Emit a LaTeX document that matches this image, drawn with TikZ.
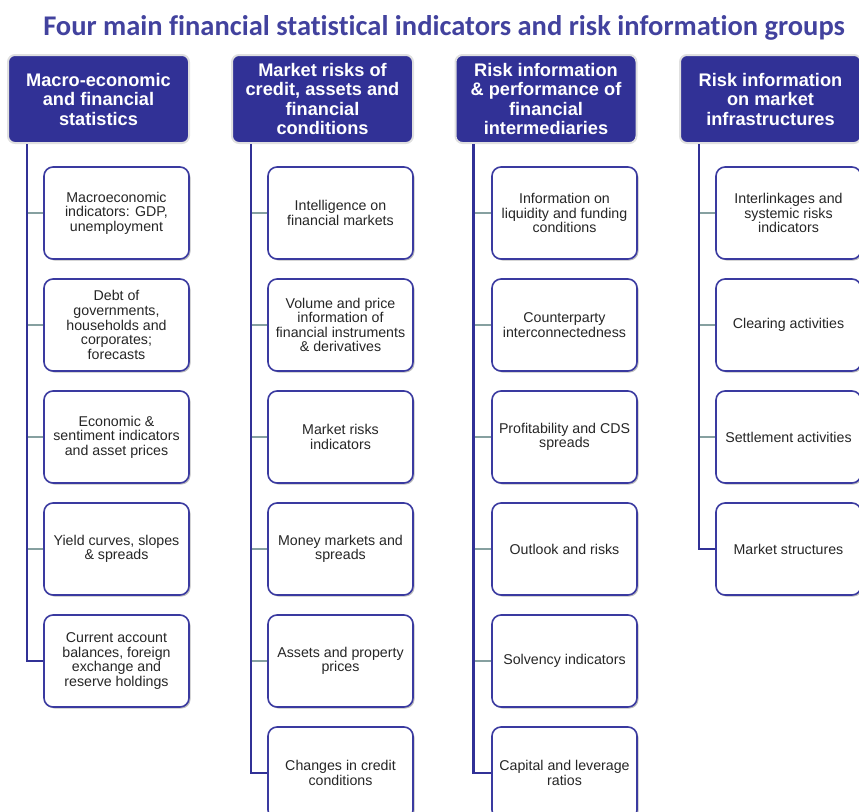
\documentclass[tikz,border=0pt]{standalone}
\usepackage{fontspec}
\setmainfont{Liberation Sans}
\newfontfamily\titlefont[Ligatures=NoCommon]{Carlito}
\usepackage{tikz}
\usetikzlibrary{shadows}
\definecolor{HeadBlue}{HTML}{313196}
\definecolor{BoxFrame}{HTML}{3A3AA0}
\definecolor{TabGrey}{HTML}{86A0A0}
\definecolor{BodyText}{HTML}{262626}

\begin{document}
\begin{tikzpicture}[x=1pt,y=-1pt]
  \tikzstyle{grouphead}=[draw=black!12, line width=2pt, fill=HeadBlue, rounded corners=7pt,
               minimum width=181, minimum height=88, inner sep=0pt, align=center,
               text=white, font=\fontsize{18.2}{19.5}\selectfont\bfseries]
  \tikzstyle{itembox}=[draw=BoxFrame, line width=1.6pt, fill=white, rounded corners=9pt,
               minimum width=145, minimum height=92, inner sep=0pt, align=center,
               text=BodyText, font=\fontsize{14.2}{14.6}\selectfont,
               drop shadow={shadow xshift=1.5pt, shadow yshift=-1.5pt, opacity=.25, fill=black}]
  \tikzstyle{trunk}=[draw=HeadBlue, line width=2.2pt]
  \tikzstyle{tab}=[draw=TabGrey, line width=2.8pt]
  \useasboundingbox (0,0) rectangle (859,811);
  % title
  \node[font=\titlefont\fontsize{28.5}{30}\selectfont\bfseries, text=HeadBlue!92!white] (title) at (444,28)
    {Four main financial statistical indicators and risk information groups};
  % group heads
  \node[grouphead] (h1) at (98.5,99) {Macro-economic\\and financial\\statistics};
  \node[grouphead] (h2) at (322.5,99) {Market risks of\\credit, assets and\\financial\\conditions};
  \node[grouphead] (h3) at (546,99) {Risk information\\\& performance of\\financial\\intermediaries};
  \node[grouphead] (h4) at (770.5,99) {Risk information\\on market\\infrastructures};
  % macro-economic statistics
  \node[itembox] (a1) at (116.5,213) {Macroeconomic\\indicators: GDP,\\unemployment};
  \node[itembox] (a2) at (116.5,325) {Debt of\\governments,\\households and\\corporates;\\forecasts};
  \node[itembox] (a3) at (116.5,437) {Economic \&\\sentiment indicators\\and asset prices};
  \node[itembox] (a4) at (116.5,549) {Yield curves, slopes\\\& spreads};
  \node[itembox] (a5) at (116.5,661) {Current account\\balances, foreign\\exchange and\\reserve holdings};
  % market risks
  \node[itembox] (b1) at (340.5,213) {Intelligence on\\financial markets};
  \node[itembox] (b2) at (340.5,325) {Volume and price\\information of\\financial instruments\\\& derivatives};
  \node[itembox] (b3) at (340.5,437) {Market risks\\indicators};
  \node[itembox] (b4) at (340.5,549) {Money markets and\\spreads};
  \node[itembox] (b5) at (340.5,661) {Assets and property\\prices};
  \node[itembox] (b6) at (340.5,773) {Changes in credit\\conditions};
  % financial intermediaries
  \node[itembox] (c1) at (564.5,213) {Information on\\liquidity and funding\\conditions};
  \node[itembox] (c2) at (564.5,325) {Counterparty\\interconnectedness};
  \node[itembox] (c3) at (564.5,437) {Profitability and CDS\\spreads};
  \node[itembox] (c4) at (564.5,549) {Outlook and risks};
  \node[itembox] (c5) at (564.5,661) {Solvency indicators};
  \node[itembox] (c6) at (564.5,773) {Capital and leverage\\ratios};
  % market infrastructures
  \node[itembox] (d1) at (788.5,213) {Interlinkages and\\systemic risks\\indicators};
  \node[itembox] (d2) at (788.5,325) {Clearing activities};
  \node[itembox] (d3) at (788.5,437) {Settlement activities};
  \node[itembox] (d4) at (788.5,549) {Market structures};
  % trunk lines and tabs
  \coordinate (t1) at ([xshift=20pt]h1.south west);
  \coordinate (t2) at ([xshift=20pt]h2.south west);
  \coordinate (t3) at ([xshift=19pt]h3.south west);
  \coordinate (t4) at ([xshift=20pt]h4.south west);
  \foreach \n in {a1,a2,a3,a4} \draw[tab] (\n.west) -- (\n.west -| t1);
  \foreach \n in {b1,b2,b3,b4,b5} \draw[tab] (\n.west) -- (\n.west -| t2);
  \foreach \n in {c1,c2,c3,c4,c5} \draw[tab] (\n.west) -- (\n.west -| t3);
  \foreach \n in {d1,d2,d3} \draw[tab] (\n.west) -- (\n.west -| t4);
  \draw[trunk] (t1) |- (a5.west);
  \draw[trunk] (t2) |- (b6.west);
  \draw[trunk] (t3) |- (c6.west);
  \draw[trunk] (t4) |- (d4.west);
\end{tikzpicture}
\end{document}
